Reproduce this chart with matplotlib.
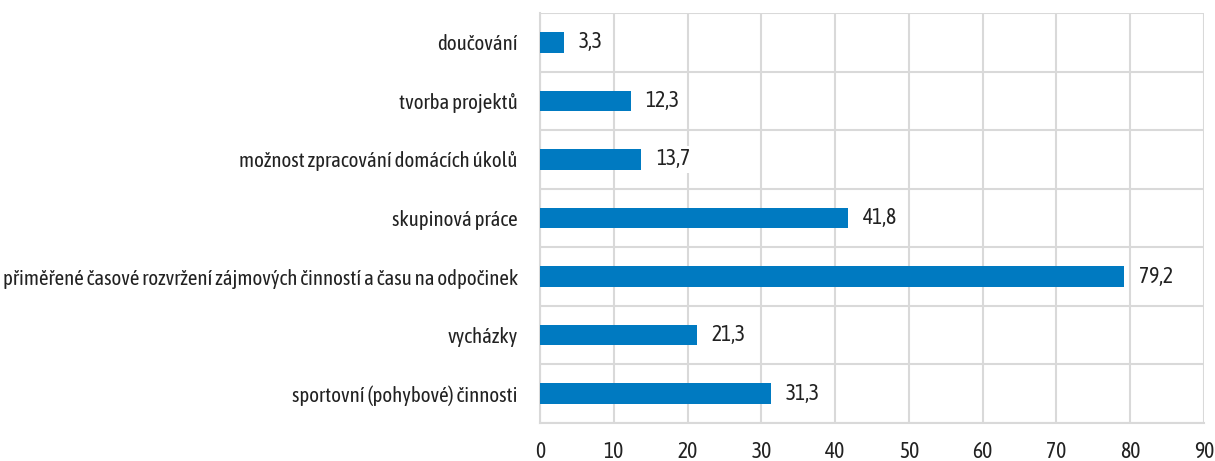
import matplotlib
matplotlib.use("Agg")
import matplotlib.pyplot as plt
from matplotlib.ticker import FixedLocator
from matplotlib import font_manager
import numpy as np

categories = [
    "doučování",
    "tvorba projektů",
    "možnost zpracování domácích úkolů",
    "skupinová práce",
    "přiměřené časové rozvržení zájmových činností a času na odpočinek",
    "vycházky",
    "sportovní (pohybové) činnosti",
]
values = [3.3, 12.3, 13.7, 41.8, 79.2, 21.3, 31.3]
value_labels = ["3,3", "12,3", "13,7", "41,8", "79,2", "21,3", "31,3"]
xticks = [0, 10, 20, 30, 40, 50, 60, 70, 80, 90]

names = {f.name for f in font_manager.fontManager.ttflist}
fams = [c for c in ['Asap Condensed', 'Barlow Condensed', 'Archivo Narrow'] if c in names]
plt.rcParams['font.family'] = fams + ['DejaVu Sans']
plt.rcParams['font.weight'] = 'normal'
if not fams:
    plt.rcParams['font.stretch'] = 'condensed'

fig = plt.figure(figsize=(12.15, 4.61), dpi=100)
ax = fig.add_axes([540/1215, 1-423/461, (1204-540)/1215, (423-13)/461])

y = np.arange(len(categories))
ax.barh(y, values, height=0.35, color='#007AC1', zorder=3)
ax.set_ylim(len(categories)-0.5, -0.5)
ax.set_xlim(0, 90)
ax.set_xticks(xticks)
ax.set_xticklabels([str(t) for t in xticks], fontsize=15.5, color='#222222')
ax.set_yticks(y)
ax.set_yticklabels(categories, fontsize=15, color='#222222')
ax.yaxis.set_minor_locator(FixedLocator(np.arange(-0.5, len(categories), 1.0)))
ax.grid(axis='x', which='major', color='#d9d9d9', linewidth=1.5, zorder=0)
ax.grid(axis='y', which='minor', color='#d9d9d9', linewidth=1.5, zorder=0)
ax.tick_params(axis='both', which='both', length=0)
ax.tick_params(axis='y', pad=16)
ax.tick_params(axis='x', pad=13)
for s in ['top', 'right']:
    ax.spines[s].set_visible(False)
for s in ['left', 'bottom']:
    ax.spines[s].set_color('#d9d9d9')
    ax.spines[s].set_linewidth(1.5)

for yi, v, lab in zip(y, values, value_labels):
    ax.text(v + 2.0, yi, lab, va='center', ha='left', fontsize=15.5, color='#222222',
            bbox=dict(facecolor='white', edgecolor='none', pad=2), zorder=4)

fig.savefig('out.png', dpi=100)
